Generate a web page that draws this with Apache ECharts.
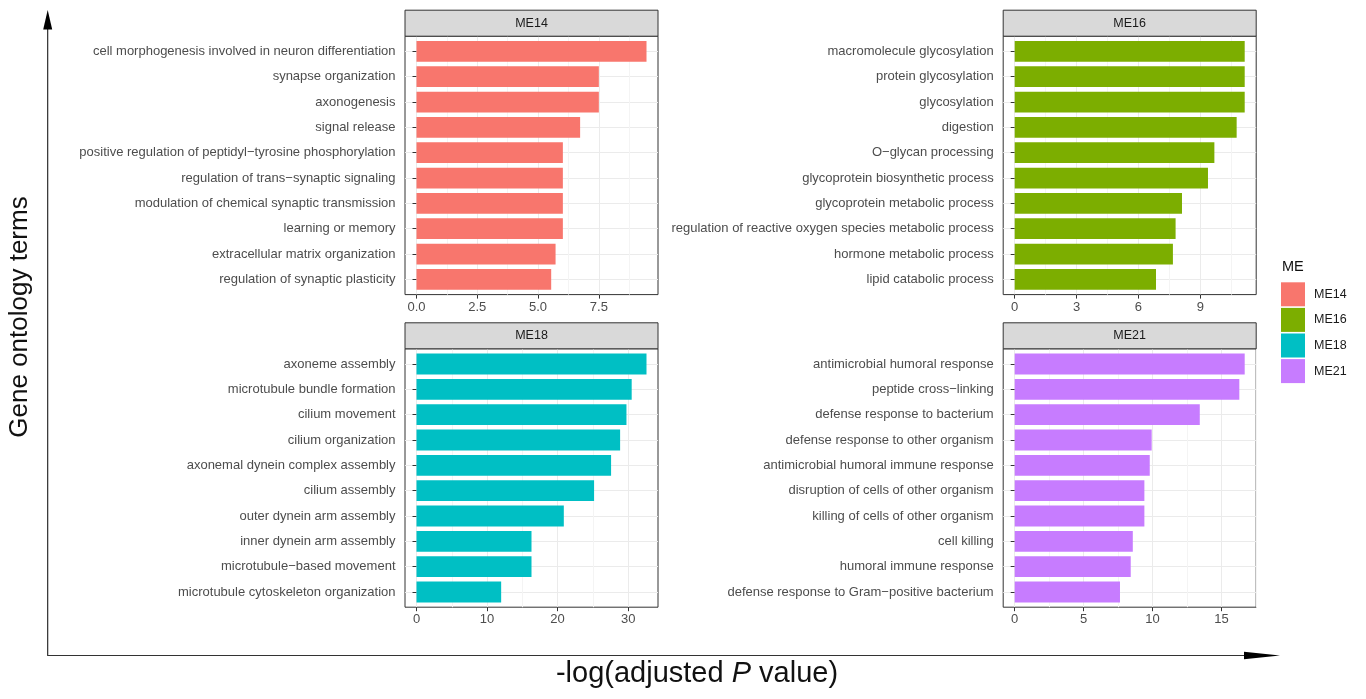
<!DOCTYPE html>
<html>
<head>
<meta charset="utf-8">
<title>GO enrichment by module</title>
<script src="https://cdn.jsdelivr.net/npm/echarts@6/dist/echarts.min.js"></script>
<style>
  html, body { margin: 0; padding: 0; background: #ffffff; }
  #chart { width: 1366px; height: 699px; }
</style>
</head>
<body>
<div id="chart"></div>
<script>
// Module names and fill colours (ggplot default hues)
const modules = ['ME14', 'ME16', 'ME18', 'ME21'];
const moduleColors = ['#F8766D', '#7CAE00', '#00BFC4', '#C77CFF'];

// GO terms per module, top to bottom
const terms14 = [
  'cell morphogenesis involved in neuron differentiation',
  'synapse organization',
  'axonogenesis',
  'signal release',
  'positive regulation of peptidyl\u2212tyrosine phosphorylation',
  'regulation of trans\u2212synaptic signaling',
  'modulation of chemical synaptic transmission',
  'learning or memory',
  'extracellular matrix organization',
  'regulation of synaptic plasticity'
];
const values14 = [9.46, 7.50, 7.50, 6.73, 6.02, 6.02, 6.02, 6.02, 5.72, 5.54];

const terms16 = [
  'macromolecule glycosylation',
  'protein glycosylation',
  'glycosylation',
  'digestion',
  'O\u2212glycan processing',
  'glycoprotein biosynthetic process',
  'glycoprotein metabolic process',
  'regulation of reactive oxygen species metabolic process',
  'hormone metabolic process',
  'lipid catabolic process'
];
const values16 = [11.15, 11.15, 11.15, 10.76, 9.68, 9.37, 8.11, 7.80, 7.67, 6.85];

const terms18 = [
  'axoneme assembly',
  'microtubule bundle formation',
  'cilium movement',
  'cilium organization',
  'axonemal dynein complex assembly',
  'cilium assembly',
  'outer dynein arm assembly',
  'inner dynein arm assembly',
  'microtubule\u2212based movement',
  'microtubule cytoskeleton organization'
];
const values18 = [32.6, 30.5, 29.76, 28.86, 27.58, 25.17, 20.88, 16.3, 16.3, 12.0];

const terms21 = [
  'antimicrobial humoral response',
  'peptide cross\u2212linking',
  'defense response to bacterium',
  'defense response to other organism',
  'antimicrobial humoral immune response',
  'disruption of cells of other organism',
  'killing of cells of other organism',
  'cell killing',
  'humoral immune response',
  'defense response to Gram\u2212positive bacterium'
];
const values21 = [16.69, 16.30, 13.43, 9.94, 9.80, 9.41, 9.41, 8.57, 8.42, 7.64];

// x-axis breaks and their labels per panel
const ticks14 = [0, 2.5, 5, 7.5];
const tickLabels14 = ['0.0', '2.5', '5.0', '7.5'];
const ticks16 = [0, 3, 6, 9];
const tickLabels16 = ['0', '3', '6', '9'];
const ticks18 = [0, 10, 20, 30];
const tickLabels18 = ['0', '10', '20', '30'];
const ticks21 = [0, 5, 10, 15];
const tickLabels21 = ['0', '5', '10', '15'];

const termSets = [terms14, terms16, terms18, terms21];
const valueSets = [values14, values16, values18, values21];
const tickSets = [ticks14, ticks16, ticks18, ticks21];
const tickLabelSets = [tickLabels14, tickLabels16, tickLabels18, tickLabels21];

// ---- layout ----
const FONT = '"Liberation Sans", Arial, Helvetica, sans-serif';
const PANEL_W = 253;
const PANEL_H = 258.4;
const STRIP_H = 26;
const panelOrigins = [[405, 36.2], [1003.2, 36.2], [405, 348.8], [1003.2, 348.8]];
const CONT_EXPAND = 0.05;   // continuous axis expansion on each side
const DISC_EXPAND = 0.6;    // discrete axis expansion on each side

const grids = [], xAxes = [], yAxes = [], series = [], graphics = [];

panelOrigins.forEach(function (origin, p) {
  const left = origin[0], top = origin[1];
  const terms = termSets[p], values = valueSets[p];
  const ticks = tickSets[p], tickLabels = tickLabelSets[p];
  const n = terms.length;
  const vmax = Math.max.apply(null, values);
  const xMin = -CONT_EXPAND * vmax;
  const xMax = (1 + CONT_EXPAND) * vmax;
  const positions = terms.map(function (_, i) { return i + 1; });

  // minor gridlines half-way between breaks
  const step = ticks[1] - ticks[0];
  const minor = [];
  for (let v = ticks[0] - step / 2; v <= xMax; v += step) {
    if (v >= xMin && v <= xMax) minor.push(v);
  }

  const span = n - 1 + 2 * DISC_EXPAND;
  const unit = PANEL_H / span;

  // panel frame with gridlines, ticks and labels
  grids.push({
    left: left, top: top, width: PANEL_W, height: PANEL_H,
    show: true, backgroundColor: '#ffffff', borderColor: '#333333', borderWidth: 1,
    containLabel: false, outerBoundsMode: 'none'
  });
  // bar area, aligned so each category band matches the discrete scale
  grids.push({
    left: left, top: top + (DISC_EXPAND - 0.5) * unit, width: PANEL_W, height: n * unit,
    show: false, containLabel: false, outerBoundsMode: 'none'
  });

  const frameGrid = 2 * p, barGrid = 2 * p + 1;

  xAxes.push({
    type: 'value', gridIndex: frameGrid, position: 'bottom', min: xMin, max: xMax,
    axisLine: { show: false },
    axisTick: { show: true, customValues: ticks, length: 4, lineStyle: { color: '#333333', width: 1 } },
    axisLabel: {
      show: true, customValues: ticks, margin: 6, fontSize: 13, color: '#4D4D4D', fontFamily: FONT,
      formatter: function (v) {
        for (let i = 0; i < ticks.length; i++) if (Math.abs(ticks[i] - v) < 1e-9) return tickLabels[i];
        return '';
      }
    },
    splitLine: { show: true, lineStyle: { color: '#EBEBEB', width: 1 } }
  });
  xAxes.push({
    type: 'value', gridIndex: frameGrid, position: 'top', min: xMin, max: xMax,
    axisLine: { show: false },
    axisTick: { show: false, customValues: minor },
    axisLabel: { show: false },
    splitLine: { show: true, lineStyle: { color: '#F4F4F4', width: 1 } }
  });
  xAxes.push({
    type: 'value', gridIndex: barGrid, min: xMin, max: xMax, show: false
  });

  yAxes.push({
    type: 'value', gridIndex: frameGrid, position: 'left', inverse: true,
    min: 1 - DISC_EXPAND, max: n + DISC_EXPAND,
    axisLine: { show: false },
    axisTick: { show: true, customValues: positions, length: 4, lineStyle: { color: '#333333', width: 1 } },
    axisLabel: {
      show: true, customValues: positions, margin: 9.5, fontSize: 13, color: '#4D4D4D', fontFamily: FONT,
      formatter: function (v) { return terms[Math.round(v) - 1] || ''; }
    },
    splitLine: { show: true, lineStyle: { color: '#EBEBEB', width: 1 } }
  });
  yAxes.push({
    type: 'category', gridIndex: barGrid, inverse: true, data: terms, show: false
  });

  series.push({
    type: 'bar', name: modules[p],
    xAxisIndex: 3 * p + 2, yAxisIndex: 2 * p + 1,
    data: values, barWidth: '82%',
    itemStyle: { color: moduleColors[p] },
    silent: true
  });

  // facet strip
  graphics.push({
    type: 'rect', silent: true, z: 50,
    shape: { x: left, y: top - STRIP_H, width: PANEL_W, height: STRIP_H },
    style: { fill: '#D9D9D9', stroke: '#333333', lineWidth: 1 }
  });
  graphics.push({
    type: 'text', silent: true, z: 51,
    x: left + PANEL_W / 2, y: top - STRIP_H / 2,
    style: { text: modules[p], fontSize: 12.5, fontFamily: FONT, fill: '#1A1A1A', align: 'center', verticalAlign: 'middle' }
  });
});

// axis titles with arrows
graphics.push(
  { type: 'line', silent: true, shape: { x1: 47.7, y1: 655.5, x2: 47.7, y2: 26 }, style: { stroke: '#1A1A1A', lineWidth: 1.1 } },
  { type: 'polygon', silent: true, shape: { points: [[47.7, 10], [43.2, 29.5], [52.2, 29.5]] }, style: { fill: '#000000' } },
  { type: 'line', silent: true, shape: { x1: 47.2, y1: 655.5, x2: 1250, y2: 655.5 }, style: { stroke: '#333333', lineWidth: 1.1 } },
  { type: 'polygon', silent: true, shape: { points: [[1280, 655.5], [1244, 651.7], [1244, 659.3]] }, style: { fill: '#000000' } },
  {
    type: 'text', silent: true, x: 20, y: 317, rotation: Math.PI / 2,
    style: { text: 'Gene ontology terms', fontSize: 26, fontFamily: FONT, fill: '#111111', align: 'center', verticalAlign: 'middle' }
  },
  {
    type: 'text', silent: true, x: 697, y: 674,
    style: {
      text: '-log(adjusted {i|P} value)', fontSize: 29, fontFamily: FONT, fill: '#111111',
      align: 'center', verticalAlign: 'middle',
      rich: { i: { fontSize: 29, fontFamily: FONT, fontStyle: 'italic', fill: '#111111' } }
    }
  },
  {
    type: 'text', silent: true, x: 1282, y: 267,
    style: { text: 'ME', fontSize: 14.5, fontFamily: FONT, fill: '#111111', align: 'left', verticalAlign: 'middle' }
  }
);

const chart = echarts.init(document.getElementById('chart'), null, { renderer: 'canvas' });
chart.setOption({
  animation: false,
  backgroundColor: '#ffffff',
  textStyle: { fontFamily: FONT },
  grid: grids,
  xAxis: xAxes,
  yAxis: yAxes,
  series: series,
  legend: {
    orient: 'vertical', left: 1281, top: 282.3, padding: 0,
    itemWidth: 24, itemHeight: 24, itemGap: 1.6, icon: 'rect',
    selectedMode: false, data: modules,
    textStyle: { fontSize: 12.5, color: '#1A1A1A', fontFamily: FONT, padding: [0, 0, 0, 4] }
  },
  graphic: { elements: graphics }
});
</script>
</body>
</html>
